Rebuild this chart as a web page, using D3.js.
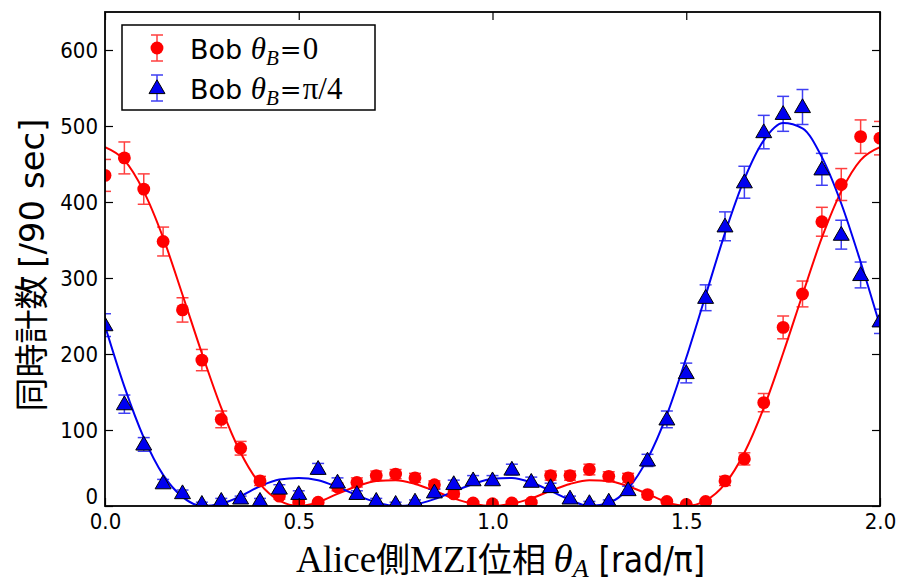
<!DOCTYPE html>
<html>
<head>
<meta charset="utf-8">
<script src="https://cdn.jsdelivr.net/npm/d3@7"></script>
<style>
  body { margin: 0; background: #fff; }
  svg { display: block; }
  .tick text { font-family: "DejaVu Sans Condensed", "DejaVu Sans", sans-serif; font-stretch: condensed; font-size: 22px; fill: #000; }
</style>
</head>
<body>
<svg id="chart" width="898" height="583"></svg>
<script>
// phase of Alice's MZI in units of pi
const phase = [0.00, 0.05, 0.10, 0.15, 0.20, 0.25, 0.30, 0.35, 0.40, 0.45,
  0.50, 0.55, 0.60, 0.65, 0.70, 0.75, 0.80, 0.85, 0.90, 0.95,
  1.00, 1.05, 1.10, 1.15, 1.20, 1.25, 1.30, 1.35, 1.40, 1.45,
  1.50, 1.55, 1.60, 1.65, 1.70, 1.75, 1.80, 1.85, 1.90, 1.95, 2.00];

// Bob theta_B = 0
const redCounts = [435, 458, 417, 348, 258, 192, 114, 76, 33, 13,
  5, 5, 25, 31, 40, 42, 37, 28, 16, 4,
  3, 4, 5, 40, 40, 48, 39, 37, 15, 6,
  2, 6, 33, 62, 136, 235, 279, 374, 423, 486, 484];
const redErr = [21, 21, 20, 19, 16, 14, 11, 9, 6, 4,
  2, 2, 5, 6, 6, 6, 6, 5, 4, 2,
  2, 2, 2, 6, 6, 7, 6, 6, 4, 2,
  1, 2, 6, 8, 12, 15, 17, 19, 21, 22, 22];
const redFit = [472, 455, 414, 353, 278, 201, 129, 70, 29, 7,
  0, 5, 16, 26, 33, 34, 29, 20, 10, 3,
  0, 3, 10, 20, 29, 34, 33, 26, 16, 5,
  0, 7, 29, 70, 129, 201, 278, 353, 414, 455, 472];

// Bob theta_B = pi/4
const blueCounts = [238, 134, 81, 30, 17, 3, 7, 10, 7, 23,
  16, 49, 31, 16, 7, 3, 6, 18, 29, 34,
  34, 48, 32, 25, 10, 4, 6, 21, 60, 114,
  175, 274, 368, 426, 492, 516, 525, 443, 357, 304, 243];
const blueErr = [15, 12, 9, 5, 4, 2, 3, 3, 3, 5,
  4, 7, 6, 4, 3, 2, 2, 4, 5, 6,
  6, 7, 6, 5, 3, 2, 2, 5, 8, 11,
  13, 17, 19, 21, 22, 23, 23, 21, 19, 17, 16];
const blueFit = [237, 157, 90, 41, 12, 0, 3, 13, 26, 35,
  37, 34, 25, 14, 5, 0, 2, 9, 19, 29,
  36, 37, 31, 20, 8, 0, 4, 23, 62, 120,
  195, 277, 359, 430, 481, 504, 497, 459, 398, 321, 237];

const xTicks = [0, 0.5, 1.0, 1.5, 2.0];
const yTicks = [0, 100, 200, 300, 400, 500, 600];

const margin = { top: 12, right: 18, bottom: 77, left: 105 };
const W = 898, H = 583;
const w = W - margin.left - margin.right;
const h = H - margin.top - margin.bottom;

const svg = d3.select("#chart");
const g = svg.append("g").attr("transform", `translate(${margin.left},${margin.top})`);

const x = d3.scaleLinear().domain([0, 2]).range([0, w]);
const y = d3.scaleLinear().domain([0, 650]).range([h, 0]);

const mkData = (counts, err, fit) => phase.map((p, i) => ({ p, v: counts[i], e: err[i], f: fit[i] }));
const series = [
  { name: "red", color: "#ff0000", data: mkData(redCounts, redErr, redFit) },
  { name: "blue", color: "#0000f0", data: mkData(blueCounts, blueErr, blueFit) }
];

g.append("clipPath").attr("id", "plotclip")
  .append("rect").attr("width", w).attr("height", h);

const plot = g.append("g").attr("clip-path", "url(#plotclip)");

// fit curves
const line = d3.line().x(d => x(d.p)).y(d => y(d.f)).curve(d3.curveMonotoneX);
series.forEach(s => {
  plot.append("path")
    .datum(s.data)
    .attr("fill", "none")
    .attr("stroke", s.color)
    .attr("stroke-width", 2)
    .attr("d", line);
});

// error bars
const capW = 6;
series.forEach(s => {
  const eb = plot.append("g").attr("stroke", s.color).attr("stroke-width", 1.5).attr("opacity", 0.75);
  s.data.forEach(d => {
    const x0 = x(d.p), yl = y(d.v - d.e), yh = y(d.v + d.e);
    eb.append("line").attr("x1", x0).attr("x2", x0).attr("y1", yl).attr("y2", yh);
    eb.append("line").attr("x1", x0 - capW).attr("x2", x0 + capW).attr("y1", yl).attr("y2", yl);
    eb.append("line").attr("x1", x0 - capW).attr("x2", x0 + capW).attr("y1", yh).attr("y2", yh);
  });
});

// markers
const circ = d3.symbol().type(d3.symbolCircle).size(130);
const tri = d3.symbol().type(d3.symbolTriangle).size(110);
plot.append("g").selectAll("path")
  .data(series[0].data).join("path")
  .attr("transform", d => `translate(${x(d.p)},${y(d.v)})`)
  .attr("d", circ)
  .attr("fill", series[0].color);
plot.append("g").selectAll("path")
  .data(series[1].data).join("path")
  .attr("transform", d => `translate(${x(d.p)},${y(d.v) + 1})`)
  .attr("d", tri)
  .attr("fill", series[1].color)
  .attr("stroke", "#000")
  .attr("stroke-width", 1);

// axes, ticks pointing inward
const fmtX = d3.format(".1f");
g.append("g").attr("transform", `translate(0,${h})`)
  .call(d3.axisBottom(x).tickValues(xTicks).tickFormat(fmtX).tickSize(-8).tickPadding(7));
g.append("g")
  .call(d3.axisTop(x).tickValues(xTicks).tickFormat("").tickSize(-8));
g.append("g")
  .call(d3.axisLeft(y).tickValues(yTicks).tickSize(-8).tickPadding(7))
  .selectAll(".tick text").attr("dy", (d) => d === 0 ? "-0.1em" : "0.32em");
g.append("g").attr("transform", `translate(${w},0)`)
  .call(d3.axisRight(y).tickValues(yTicks).tickFormat("").tickSize(-8));
g.selectAll(".domain").remove();
g.selectAll(".tick line").attr("stroke", "#000").attr("stroke-width", 1.2);

g.append("rect").attr("width", w).attr("height", h)
  .attr("fill", "none").attr("stroke", "#000").attr("stroke-width", 1.8);

// legend
const lg = g.append("g").attr("transform", "translate(17,13)");
lg.append("rect").attr("width", 253).attr("height", 85)
  .attr("fill", "#fff").attr("stroke", "#000").attr("stroke-width", 1.5);
const legendItems = [
  { s: series[0], sym: circ, rest: ["=", "0"] },
  { s: series[1], sym: tri, rest: ["=", "π/4"] }
];
legendItems.forEach((it, i) => {
  const cy = 23 + i * 40, cx = 35;
  const eg = lg.append("g").attr("stroke", it.s.color).attr("stroke-width", 1.5).attr("opacity", 0.75);
  eg.append("line").attr("x1", cx).attr("x2", cx).attr("y1", cy - 13).attr("y2", cy + 13);
  eg.append("line").attr("x1", cx - 6).attr("x2", cx + 6).attr("y1", cy - 13).attr("y2", cy - 13);
  eg.append("line").attr("x1", cx - 6).attr("x2", cx + 6).attr("y1", cy + 13).attr("y2", cy + 13);
  const mk = lg.append("path").attr("d", it.sym)
    .attr("transform", `translate(${cx},${cy + (i ? 1 : 0)})`)
    .attr("fill", it.s.color);
  if (i) mk.attr("stroke", "#000").attr("stroke-width", 1);
  const t = lg.append("text").attr("x", 68).attr("y", cy + 11)
    .attr("font-size", 27).attr("fill", "#000");
  t.append("tspan").attr("font-family", "DejaVu Sans, sans-serif").text("Bob ");
  t.append("tspan").attr("font-family", "Liberation Serif, serif").attr("font-style", "italic").attr("font-size", 31).text("θ");
  t.append("tspan").attr("font-family", "Liberation Serif, serif").attr("font-style", "italic")
    .attr("font-size", 21).attr("dy", 6).text("B");
  t.append("tspan").attr("font-family", "DejaVu Serif, serif").attr("font-size", 26).attr("dy", -6)
    .attr("dx", 1).text(it.rest[0]);
  t.append("tspan").attr("font-family", "Liberation Serif, serif").attr("font-size", 31)
    .attr("dx", 1).text(it.rest[1]);
});

// axis labels
const xl = svg.append("text")
  .attr("x", margin.left + w / 2 + 8).attr("y", 572)
  .attr("text-anchor", "middle").attr("font-size", 37).attr("fill", "#000");
xl.append("tspan").attr("font-family", "Liberation Serif, serif").text("Alice");
xl.append("tspan").attr("font-family", "Noto Sans CJK JP").attr("font-size", 34).text("側");
xl.append("tspan").attr("font-family", "Liberation Serif, serif").text("MZI");
xl.append("tspan").attr("font-family", "Noto Sans CJK JP").attr("font-size", 34).text("位相 ");
xl.append("tspan").attr("font-family", "Liberation Serif, serif").attr("font-style", "italic").attr("font-size", 39).text("θ");
xl.append("tspan").attr("font-family", "Liberation Serif, serif").attr("font-style", "italic")
  .attr("font-size", 26).attr("dy", 5).text("A");
xl.append("tspan").attr("font-family", "DejaVu Sans Condensed, DejaVu Sans, sans-serif")
  .attr("font-stretch", "condensed").attr("font-size", 35).attr("dy", -5).text(" [rad/π]");

const yl = svg.append("text")
  .attr("transform", `translate(44,${margin.top + h / 2 + 6}) rotate(-90)`)
  .attr("text-anchor", "middle").attr("font-size", 34).attr("fill", "#000");
yl.append("tspan").attr("font-family", "Noto Sans CJK JP").text("同時計数 ");
yl.append("tspan").attr("font-family", "DejaVu Sans, sans-serif").text("[/90 sec]");
</script>
</body>
</html>
